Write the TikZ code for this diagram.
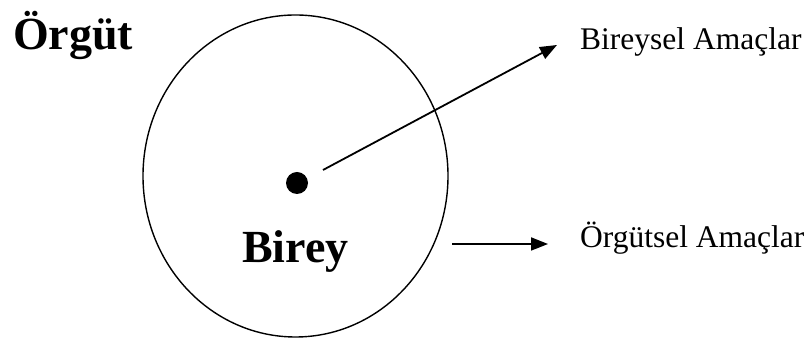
\documentclass[tikz,border=0pt]{standalone}
\usepackage{fontspec}
\setmainfont{Liberation Serif}
\usetikzlibrary{arrows.meta,shapes.geometric}
\begin{document}
\begin{tikzpicture}[x=1pt,y=1pt,
  conn/.style={line width=1.8pt,-{Triangle[length=17pt,width=13pt]}},
  big/.style={font=\fontsize{46}{46}\selectfont\bfseries, inner sep=0pt},
  lab/.style={font=\fontsize{31.5}{31.5}\selectfont, inner sep=0pt}]
\useasboundingbox (0,0) rectangle (812,339);
\node[ellipse, draw, line width=1.4pt, minimum width=305pt, minimum height=322pt, inner sep=0pt] (org) at (295.5,163) {};
\node[circle, fill, minimum size=22pt, inner sep=0pt] (dot) at (297,156) {};
\node[big, anchor=base west] (orgut) at (13,289) {Örgüt};
\node[big, anchor=base west] (birey) at (242,76) {Birey};
\node[lab, anchor=base west] (bam) at (580,289) {Bireysel Amaçlar};
\node[lab, anchor=base west] (oam) at (580,91) {Örgütsel Amaçlar};
\coordinate (a1s) at (323,169);
\coordinate (a1e) at (557,294);
\coordinate (a2s) at (452,95);
\coordinate (a2e) at (548,95);
\draw[conn] (a1s) -- (a1e);
\draw[conn] (a2s) -- (a2e);
\end{tikzpicture}
\end{document}
